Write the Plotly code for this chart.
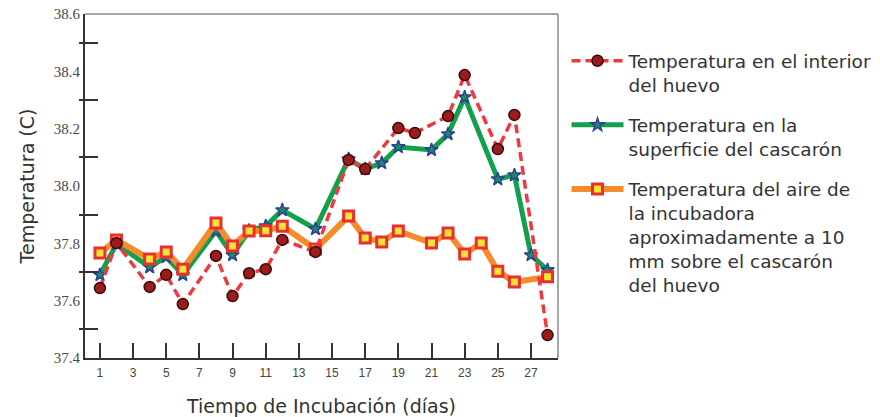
import plotly.graph_objects as go

# --- data ---
dias_interior = [1, 2, 4, 5, 6, 8, 9, 10, 11, 12, 14, 16, 17, 19, 20, 22, 23, 25, 26, 28]
temp_interior = [37.644, 37.801, 37.648, 37.690, 37.588, 37.756, 37.616, 37.696, 37.710, 37.812,
                 37.770, 38.091, 38.059, 38.202, 38.185, 38.244, 38.387, 38.129, 38.248, 37.480]

dias_superficie = [1, 2, 4, 5, 6, 8, 9, 10, 11, 12, 14, 16, 17, 18, 19, 21, 22, 23, 25, 26, 27, 28]
temp_superficie = [37.690, 37.798, 37.717, 37.752, 37.690, 37.843, 37.759, 37.845, 37.860, 37.916,
                   37.850, 38.094, 38.059, 38.080, 38.136, 38.126, 38.181, 38.310, 38.024, 38.038,
                   37.759, 37.707]

dias_aire = [1, 2, 4, 5, 6, 8, 9, 10, 11, 12, 14, 16, 17, 18, 19, 21, 22, 23, 24, 25, 26, 28]
temp_aire = [37.766, 37.812, 37.745, 37.770, 37.710, 37.871, 37.791, 37.843, 37.844, 37.860,
             37.780, 37.895, 37.819, 37.805, 37.843, 37.801, 37.836, 37.763, 37.801, 37.703,
             37.665, 37.683]

nombres = [
    "Temperatura en el interior<br>del huevo",
    "Temperatura en la<br>superficie del cascarón",
    "Temperatura del aire de<br>la incubadora<br>aproximadamente a 10<br>mm sobre el cascarón<br>del huevo",
]

x_ticks = list(range(1, 28, 2))
y_label_vals = [37.4, 37.6, 37.8, 38.0, 38.2, 38.4, 38.6]
y_label_text = ["37.4", "37.6", "37.8", "38.0", "38.2", "38.4", "38.6"]
y_tick_vals = [37.5, 37.7, 37.9, 38.1, 38.3, 38.5]

fig = go.Figure()

fig.add_trace(go.Scatter(
    x=dias_superficie, y=temp_superficie, name=nombres[1], legendrank=2, legendgroup="g2",
    mode="lines+markers",
    line=dict(color="#12a04c", width=5),
    marker=dict(symbol="star", size=10, color="#1f8f55", line=dict(color="#2b3f9c", width=1.5)),
))
fig.add_trace(go.Scatter(
    x=dias_aire, y=temp_aire, name=nombres[2], legendrank=3, legendgroup="g3",
    mode="lines+markers",
    line=dict(color="#f68b2c", width=6),
    marker=dict(symbol="square", size=10, color="#f8e23a", line=dict(color="#e8302f", width=3)),
))
fig.add_trace(go.Scatter(
    x=dias_interior, y=temp_interior, name=nombres[0], legendrank=1, legendgroup="g1",
    mode="lines+markers",
    line=dict(color="#ee3a3e", width=3.5, dash="9px,5px"),
    marker=dict(symbol="circle", size=11, color="#9c1b1b", line=dict(color="#3a0a0a", width=1.5)),
))
# invisible helper so the overlay axis (outer half of y ticks) is drawn
fig.add_trace(go.Scatter(x=[dias_aire[0]], y=[temp_aire[0]], yaxis="y2", mode="markers",
                         marker=dict(opacity=0), showlegend=False, hoverinfo="skip"))

fig.update_layout(
    width=880, height=417,
    margin=dict(l=85, r=322, t=14, b=59, autoexpand=False),
    paper_bgcolor="white", plot_bgcolor="white",
    font=dict(family="DejaVu Sans", color="#333333"),
    showlegend=True,
    legend=dict(
        x=1.018, xanchor="left", y=0.918, yanchor="top",
        font=dict(family="DejaVu Sans", size=18.5, color="#333333"),
        valign="top", itemwidth=52, tracegroupgap=13,
        bgcolor="rgba(0,0,0,0)",
    ),
    xaxis=dict(
        range=[0.1, 28.63], tickmode="array", tickvals=x_ticks,
        ticks="inside", ticklen=15, tickwidth=2, tickcolor="#333333",
        showline=True, linecolor="#333333", linewidth=2,
        showgrid=False, zeroline=False, ticklabelstandoff=3, automargin=False,
        tickfont=dict(family="Liberation Sans", size=12, color="#444444"),
        title=dict(text="Tiempo de Incubación (días)", font=dict(family="DejaVu Sans", size=19, color="#333333"), standoff=22),
    ),
    yaxis=dict(
        range=[37.4, 38.6], tickmode="array", tickvals=y_label_vals, ticktext=y_label_text,
        ticks="", showline=True, linecolor="#333333", linewidth=2,
        showgrid=False, zeroline=False, automargin=False,
        minor=dict(tickvals=y_tick_vals, ticks="inside", ticklen=13, tickwidth=2, tickcolor="#333333", showgrid=False),
        tickfont=dict(family="Liberation Serif", size=15, color="#4a4a4a"),
        title=dict(text="Temperatura (C)", font=dict(family="DejaVu Sans", size=19, color="#333333"), standoff=14),
    ),
    yaxis2=dict(
        range=[37.4, 38.6], overlaying="y", side="left", tickmode="array", tickvals=y_tick_vals,
        ticks="outside", ticklen=5, tickwidth=2, tickcolor="#333333", automargin=False,
        showticklabels=False, showline=False, showgrid=False, zeroline=False,
    ),
    shapes=[
        dict(type="line", xref="x domain", yref="y domain", x0=0, x1=1, y0=1, y1=1,
             line=dict(color="#8a8a8a", width=1.5)),
        dict(type="line", xref="x domain", yref="y domain", x0=1, x1=1, y0=0, y1=1,
             line=dict(color="#8a8a8a", width=1.5)),
    ],
)

fig.write_html("out.html")
